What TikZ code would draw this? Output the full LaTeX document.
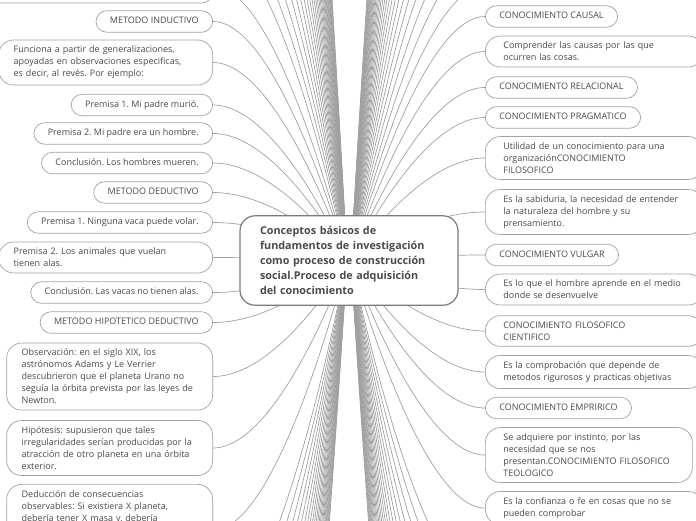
\documentclass[tikz,border=0pt]{standalone}
\usepackage{fontspec}
\setmainfont{Open Sans}
\frenchspacing
\definecolor{leafline}{HTML}{A3A3A3}
\definecolor{leaftext}{HTML}{4A4A4A}
\definecolor{linkgray}{HTML}{A0A0A0}
\definecolor{coreline}{HTML}{7A7A7A}
\pgfdeclarelayer{bg}
\pgfsetlayers{bg,main}
\tikzset{
  leaf/.style={draw=leafline, fill=white, line width=0.7pt, rounded corners=11pt,
    inner xsep=14pt, inner ysep=6pt, text=leaftext, font=\fontsize{9}{12}\selectfont},
  oneline/.style={leaf, text height=7pt, text depth=2.5pt},
  block/.style={leaf, align=left, text width=#1, inner xsep=15pt, rounded corners=15pt},
  rblock/.style={block=#1, inner xsep=18pt},
  core/.style={draw=coreline, fill=white, line width=1.2pt, rounded corners=15pt,
    align=left, text width=178pt, inner xsep=20pt, inner ysep=10.5pt, text=leaftext,
    font=\fontsize{10.8}{15}\selectfont\bfseries},
  link/.style={draw=linkgray, line width=0.7pt}
}
\begin{document}
\begin{tikzpicture}[x=1pt,y=-1pt]
\useasboundingbox (0,0) rectangle (696,520);
\clip (0,0) rectangle (696,520);
\node[core] (root) at (349,260.5) {Conceptos básicos de\\fundamentos de investigación\\como proceso de construcción\\social.Proceso de adquisición\\del conocimiento};
\coordinate (lc) at ([xshift=-2pt]root.center);
\coordinate (rc) at ([xshift=2pt]root.center);
% left side
\node[leaf, anchor=east, minimum width=240pt, minimum height=34pt] (top) at (213,-14) {};
\node[oneline, anchor=east] (ind) at (213,21.5) {METODO INDUCTIVO};
\node[block=184pt, anchor=east] (indtxt) at (213,62.5) {Funciona a partir de generalizaciones,\\apoyadas en observaciones especificas,\\es decir, al revés. Por ejemplo:};
\node[oneline, anchor=east] (ip1) at (213,105) {Premisa 1. Mi padre murió.};
\node[oneline, anchor=east] (ip2) at (213,133.5) {Premisa 2. Mi padre era un hombre.};
\node[oneline, anchor=east] (ic) at (213,163) {Conclusión. Los hombres mueren.};
\node[oneline, anchor=east] (ded) at (213,192.5) {METODO DEDUCTIVO};
\node[oneline, anchor=east] (dp1) at (213,222.5) {Premisa 1. Ninguna vaca puede volar.};
\node[block=184pt, anchor=east] (dp2) at (213,257.5) {Premisa 2. Los animales que vuelan\\tienen alas.};
\node[oneline, anchor=east] (dc) at (213,292.5) {Conclusión. Las vacas no tienen alas.};
\node[oneline, anchor=east] (hip) at (213,322.5) {METODO HIPOTETICO DEDUCTIVO};
\node[block=176pt, anchor=east] (obs) at (213,376.5) {Observación: en el siglo XIX, los\\astrónomos Adams y Le Verrier\\descubrieron que el planeta Urano no\\seguía la órbita prevista por las leyes de\\Newton.};
\node[block=176pt, anchor=east] (hyp) at (213,448) {Hipótesis: supusieron que tales\\irregularidades serían producidas por la\\atracción de otro planeta en una órbita\\exterior.};
\node[block=176pt, anchor=north east, text depth=73pt] (dedu) at (213,484) {Deducción de consecuencias\\observables: Si existiera X planeta,\\debería tener X masa y, debería};
% right side
\node[oneline, anchor=west] (causal) at (485,16.5) {CONOCIMIENTO CAUSAL};
\node[rblock=182pt, anchor=west] (causaltxt) at (485,51.5) {Comprender las causas por las que\\ocurren las cosas.};
\node[oneline, anchor=west] (relac) at (485,87.5) {CONOCIMIENTO RELACIONAL};
\node[oneline, anchor=west] (pragm) at (485,117.5) {CONOCIMIENTO PRAGMATICO};
\node[rblock=182pt, anchor=west] (utilid) at (485,158) {Utilidad de un conocimiento para una\\organizaciónCONOCIMIENTO\\FILOSOFICO};
\node[rblock=182pt, anchor=west] (sabid) at (485,212) {Es la sabiduria, la necesidad de entender\\la naturaleza del hombre y su\\prensamiento.};
\node[oneline, anchor=west] (vulgar) at (485,255) {CONOCIMIENTO VULGAR};
\node[rblock=182pt, anchor=west] (vulgtxt) at (485,289.5) {Es lo que el hombre aprende en el medio\\donde se desenvuelve};
\node[rblock=182pt, anchor=west] (cientif) at (485,331) {CONOCIMIENTO FILOSOFICO\\CIENTIFICO};
\node[rblock=182pt, anchor=west] (comprob) at (485,372) {Es la comprobación que depende de\\metodos rigurosos y practicas objetivas};
\node[oneline, anchor=west] (empir) at (485,408) {CONOCIMIENTO EMPRIRICO};
\node[rblock=171pt, anchor=west] (instinto) at (485,455) {Se adquiere por instinto, por las\\necesidad que se nos\\presentan.CONOCIMIENTO FILOSOFICO\\TEOLOGICO};
\node[rblock=182pt, anchor=west] (confianza) at (485,508) {Es la confianza o fe en cosas que no se\\pueden comprobar};
\begin{pgfonlayer}{bg}
\clip (0,0) rectangle (696,520);
\foreach \n in {top,ind,indtxt,ip1,ip2,ic,ded,dp1,dp2,dc,hip,obs,hyp,dedu}
  \draw[link] (\n.east) .. controls +(67,0) and (lc) .. (lc);
\foreach \n in {causal,causaltxt,relac,pragm,utilid,sabid,vulgar,vulgtxt,cientif,comprob,empir,instinto,confianza}
  \draw[link] (\n.west) .. controls +(-67,0) and (rc) .. (rc);
% branches whose nodes lie outside the frame
\foreach \k [evaluate=\k as \y using -60-32*\k] in {0,...,31} {
  \coordinate (far) at (213,\y);
  \draw[link] (far) .. controls +(67,0) and (lc) .. (lc);
}
\foreach \k [evaluate=\k as \y using 620+32*\k] in {0,...,24} {
  \coordinate (far) at (213,\y);
  \draw[link] (far) .. controls +(67,0) and (lc) .. (lc);
}
\foreach \k [evaluate=\k as \y using -14-32*\k] in {0,...,30} {
  \coordinate (far) at (485,\y);
  \draw[link] (far) .. controls +(-67,0) and (rc) .. (rc);
}
\foreach \k [evaluate=\k as \y using 590+32*\k] in {0,...,25} {
  \coordinate (far) at (485,\y);
  \draw[link] (far) .. controls +(-67,0) and (rc) .. (rc);
}
\end{pgfonlayer}
\end{tikzpicture}
\end{document}
